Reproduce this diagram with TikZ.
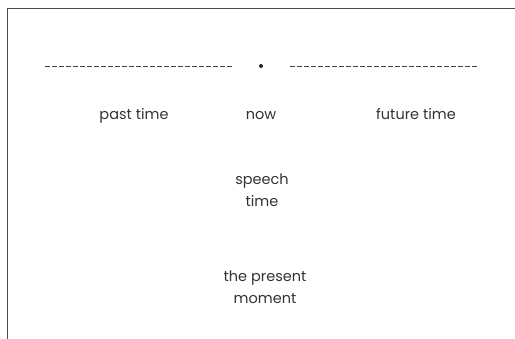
\documentclass[tikz,border=0pt]{standalone}
\usepackage{fontspec}
\setmainfont{Poppins}
\begin{document}
\begin{tikzpicture}[x=1pt,y=-1pt,
  lbl/.style={font=\fontsize{14.5}{21.5}\selectfont, text=black!80, align=center, inner sep=0pt},
  tline/.style={draw=black!75, line width=0.9pt, dash pattern=on 4.5pt off 2.5pt},
  frame/.style={draw=black!70, line width=1pt}]
\useasboundingbox (0,0) rectangle (515,339);
\coordinate (ftop) at (515,8.5);
\coordinate (fcorner) at (7.5,8.5);
\coordinate (fbottom) at (7.5,339);
\draw[frame] (ftop) -- (fcorner) -- (fbottom);
\coordinate (pl) at (45,66);
\coordinate (pr) at (232,66);
\coordinate (fl) at (290,66);
\coordinate (fr) at (478,66);
\draw[tline] (pl) -- (pr);
\draw[tline] (fl) -- (fr);
\node[circle, fill=black!85, inner sep=0pt, minimum size=4pt] (dot) at (261,66) {};
\node[lbl, anchor=base] (past) at (134,120) {past time};
\node[lbl, anchor=base] (now) at (261,120) {now};
\node[lbl, anchor=base] (future) at (416,120) {future time};
\node[lbl] (speech) at (262,190) {speech\\time};
\node[lbl] (present) at (265,287) {the present\\moment};
\end{tikzpicture}
\end{document}
